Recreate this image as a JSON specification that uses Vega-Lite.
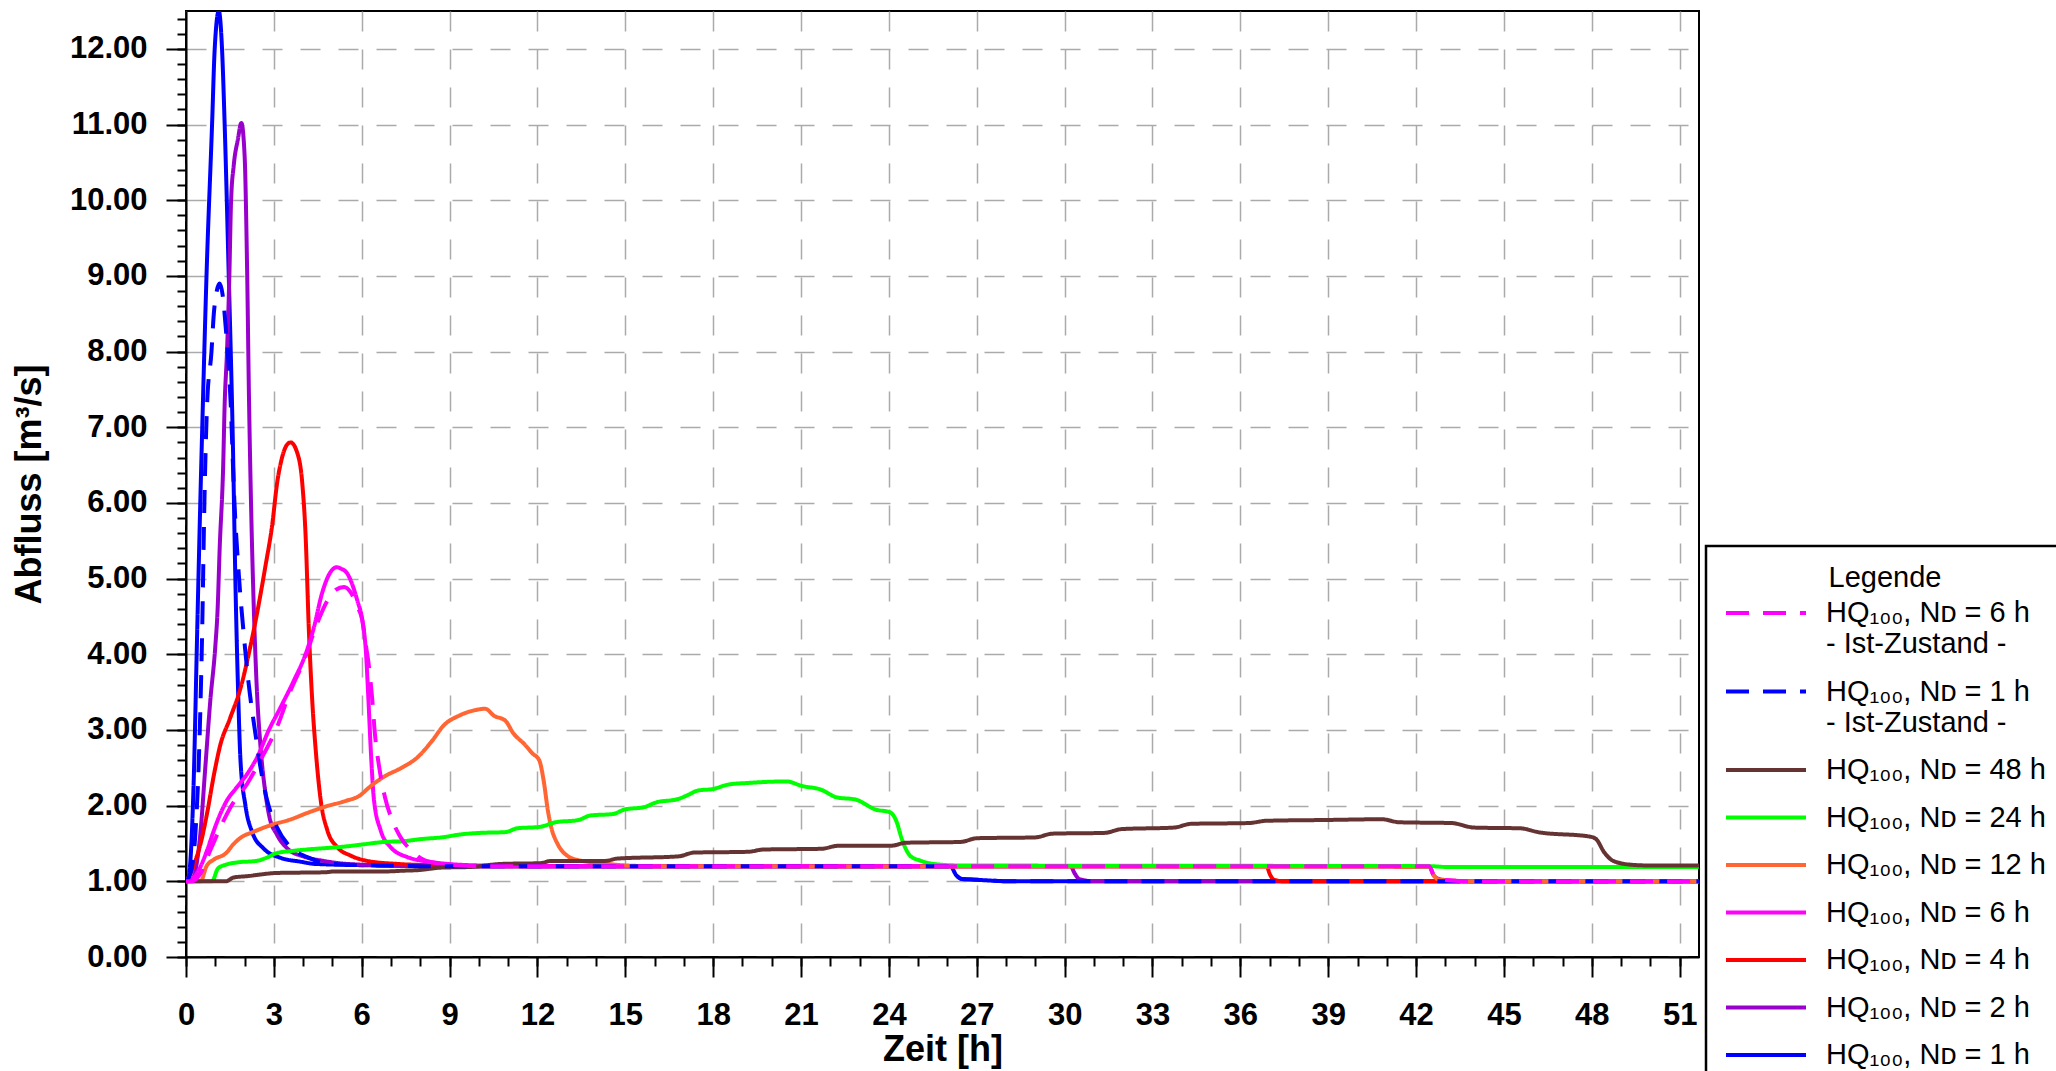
{
"$schema": "https://vega.github.io/schema/vega-lite/v6.json",
"width": 1513, "height": 946,
"autosize": {"type": "none"},
"padding": {"left": 186, "top": 11, "right": 357, "bottom": 114},
"background": "white",
"config": {
  "font": "Liberation Sans",
  "view": {"stroke": "black", "strokeWidth": 2},
  "axis": {"domainColor": "black", "domainWidth": 2, "tickColor": "black", "tickWidth": 2, "labelColor": "black", "titleColor": "black", "labelFont": "Liberation Sans", "titleFont": "Liberation Sans", "labelFlush": false, "labelOverlap": false}
},
"data": {"values": [
{"s":"1","t":0,"q":1.0},{"s":"1","t":0.08,"q":1.05},{"s":"1","t":0.15,"q":1.27},{"s":"1","t":0.26,"q":2.29},{"s":"1","t":0.38,"q":4.27},{"s":"1","t":0.49,"q":6.04},{"s":"1","t":0.58,"q":7.36},{"s":"1","t":0.7,"q":9.0},{"s":"1","t":0.89,"q":11.0},{"s":"1","t":0.98,"q":12.0},{"s":"1","t":1.12,"q":12.5},{"s":"1","t":1.23,"q":12.0},{"s":"1","t":1.32,"q":11.0},{"s":"1","t":1.46,"q":9.0},{"s":"1","t":1.6,"q":6.8},{"s":"1","t":1.69,"q":4.9},{"s":"1","t":1.78,"q":3.5},{"s":"1","t":1.86,"q":2.6},{"s":"1","t":2.03,"q":2.0},{"s":"1","t":2.26,"q":1.65},{"s":"1","t":2.66,"q":1.43},{"s":"1","t":3.23,"q":1.31},{"s":"1","t":3.9,"q":1.26},{"s":"1","t":4.4,"q":1.23},{"s":"1","t":6.6,"q":1.21},{"s":"1","t":10,"q":1.2},{"s":"1","t":26.1,"q":1.2},{"s":"1","t":26.3,"q":1.08},{"s":"1","t":26.5,"q":1.03},{"s":"1","t":27,"q":1.02},{"s":"1","t":28.2,"q":1.0},{"s":"1","t":51.66,"q":1.0},
{"s":"2","t":0,"q":1.0},{"s":"2","t":0.2,"q":1.02},{"s":"2","t":0.35,"q":1.2},{"s":"2","t":0.49,"q":1.63},{"s":"2","t":0.66,"q":2.51},{"s":"2","t":0.83,"q":3.39},{"s":"2","t":1.0,"q":4.1},{"s":"2","t":1.08,"q":4.6},{"s":"2","t":1.15,"q":5.4},{"s":"2","t":1.27,"q":6.5},{"s":"2","t":1.32,"q":7.3},{"s":"2","t":1.4,"q":8.0},{"s":"2","t":1.48,"q":9.0},{"s":"2","t":1.54,"q":10.0},{"s":"2","t":1.63,"q":10.46},{"s":"2","t":1.77,"q":10.8},{"s":"2","t":1.89,"q":11.02},{"s":"2","t":2.0,"q":10.6},{"s":"2","t":2.09,"q":9.0},{"s":"2","t":2.15,"q":7.4},{"s":"2","t":2.22,"q":6.0},{"s":"2","t":2.3,"q":4.8},{"s":"2","t":2.4,"q":3.7},{"s":"2","t":2.54,"q":2.8},{"s":"2","t":2.7,"q":2.2},{"s":"2","t":2.85,"q":1.85},{"s":"2","t":3.1,"q":1.62},{"s":"2","t":3.5,"q":1.42},{"s":"2","t":4.0,"q":1.33},{"s":"2","t":4.7,"q":1.27},{"s":"2","t":5.5,"q":1.23},{"s":"2","t":7,"q":1.21},{"s":"2","t":9,"q":1.2},{"s":"2","t":30.2,"q":1.2},{"s":"2","t":30.35,"q":1.1},{"s":"2","t":30.5,"q":1.03},{"s":"2","t":31,"q":1.0},{"s":"2","t":51.66,"q":1.0},
{"s":"4","t":0,"q":1.0},{"s":"4","t":0.15,"q":1.1},{"s":"4","t":0.3,"q":1.25},{"s":"4","t":0.5,"q":1.5},{"s":"4","t":0.72,"q":1.9},{"s":"4","t":0.95,"q":2.4},{"s":"4","t":1.17,"q":2.8},{"s":"4","t":1.5,"q":3.15},{"s":"4","t":1.86,"q":3.55},{"s":"4","t":2.14,"q":4.0},{"s":"4","t":2.43,"q":4.55},{"s":"4","t":2.71,"q":5.16},{"s":"4","t":2.94,"q":5.7},{"s":"4","t":3.11,"q":6.26},{"s":"4","t":3.28,"q":6.6},{"s":"4","t":3.45,"q":6.77},{"s":"4","t":3.57,"q":6.8},{"s":"4","t":3.8,"q":6.66},{"s":"4","t":3.97,"q":6.26},{"s":"4","t":4.08,"q":5.6},{"s":"4","t":4.2,"q":4.27},{"s":"4","t":4.31,"q":3.39},{"s":"4","t":4.43,"q":2.73},{"s":"4","t":4.6,"q":2.07},{"s":"4","t":4.83,"q":1.67},{"s":"4","t":5.17,"q":1.45},{"s":"4","t":5.62,"q":1.34},{"s":"4","t":6.19,"q":1.27},{"s":"4","t":7.22,"q":1.23},{"s":"4","t":8.7,"q":1.21},{"s":"4","t":10,"q":1.2},{"s":"4","t":36.9,"q":1.2},{"s":"4","t":37.0,"q":1.1},{"s":"4","t":37.15,"q":1.02},{"s":"4","t":37.5,"q":1.0},{"s":"4","t":51.66,"q":1.0},
{"s":"6","t":0,"q":1.0},{"s":"6","t":0.26,"q":1.05},{"s":"6","t":0.49,"q":1.19},{"s":"6","t":0.72,"q":1.41},{"s":"6","t":0.95,"q":1.67},{"s":"6","t":1.17,"q":1.89},{"s":"6","t":1.4,"q":2.07},{"s":"6","t":1.69,"q":2.22},{"s":"6","t":2.09,"q":2.42},{"s":"6","t":2.43,"q":2.64},{"s":"6","t":2.83,"q":3.0},{"s":"6","t":3.23,"q":3.3},{"s":"6","t":3.68,"q":3.65},{"s":"6","t":4.08,"q":4.0},{"s":"6","t":4.37,"q":4.36},{"s":"6","t":4.64,"q":4.8},{"s":"6","t":4.94,"q":5.09},{"s":"6","t":5.14,"q":5.15},{"s":"6","t":5.3,"q":5.13},{"s":"6","t":5.5,"q":5.07},{"s":"6","t":5.85,"q":4.71},{"s":"6","t":6.02,"q":4.45},{"s":"6","t":6.14,"q":4.05},{"s":"6","t":6.23,"q":3.39},{"s":"6","t":6.31,"q":2.73},{"s":"6","t":6.42,"q":2.07},{"s":"6","t":6.65,"q":1.67},{"s":"6","t":6.99,"q":1.45},{"s":"6","t":7.56,"q":1.32},{"s":"6","t":8.47,"q":1.25},{"s":"6","t":10,"q":1.21},{"s":"6","t":12,"q":1.2},{"s":"6","t":42.45,"q":1.2},{"s":"6","t":42.6,"q":1.08},{"s":"6","t":42.8,"q":1.03},{"s":"6","t":43.2,"q":1.01},{"s":"6","t":44,"q":1.0},{"s":"6","t":51.66,"q":1.0},
{"s":"12","t":0,"q":1.0},{"s":"12","t":0.5,"q":1.0},{"s":"12","t":0.7,"q":1.2},{"s":"12","t":0.96,"q":1.29},{"s":"12","t":1.36,"q":1.37},{"s":"12","t":1.62,"q":1.49},{"s":"12","t":1.88,"q":1.58},{"s":"12","t":2.28,"q":1.65},{"s":"12","t":2.8,"q":1.73},{"s":"12","t":3.59,"q":1.82},{"s":"12","t":4.12,"q":1.9},{"s":"12","t":4.78,"q":1.99},{"s":"12","t":5.43,"q":2.06},{"s":"12","t":5.96,"q":2.14},{"s":"12","t":6.22,"q":2.23},{"s":"12","t":6.75,"q":2.38},{"s":"12","t":7.36,"q":2.5},{"s":"12","t":7.88,"q":2.63},{"s":"12","t":8.41,"q":2.86},{"s":"12","t":8.8,"q":3.06},{"s":"12","t":9.33,"q":3.19},{"s":"12","t":9.85,"q":3.26},{"s":"12","t":10.22,"q":3.28},{"s":"12","t":10.51,"q":3.19},{"s":"12","t":10.91,"q":3.12},{"s":"12","t":11.17,"q":2.96},{"s":"12","t":11.56,"q":2.81},{"s":"12","t":11.83,"q":2.69},{"s":"12","t":12.06,"q":2.6},{"s":"12","t":12.22,"q":2.31},{"s":"12","t":12.35,"q":1.95},{"s":"12","t":12.48,"q":1.7},{"s":"12","t":12.68,"q":1.5},{"s":"12","t":13.01,"q":1.34},{"s":"12","t":13.4,"q":1.28},{"s":"12","t":14.2,"q":1.24},{"s":"12","t":15,"q":1.21},{"s":"12","t":16,"q":1.2},{"s":"12","t":42.45,"q":1.19},{"s":"12","t":42.6,"q":1.08},{"s":"12","t":42.8,"q":1.02},{"s":"12","t":44,"q":1.0},{"s":"12","t":51.66,"q":1.0},
{"s":"24","t":0,"q":1.0},{"s":"24","t":0.89,"q":1.0},{"s":"24","t":1.09,"q":1.17},{"s":"24","t":1.36,"q":1.22},{"s":"24","t":1.75,"q":1.25},{"s":"24","t":2.41,"q":1.27},{"s":"24","t":2.8,"q":1.32},{"s":"24","t":3.07,"q":1.37},{"s":"24","t":3.59,"q":1.4},{"s":"24","t":4.12,"q":1.42},{"s":"24","t":5.43,"q":1.46},{"s":"24","t":6.09,"q":1.49},{"s":"24","t":6.75,"q":1.52},{"s":"24","t":7.41,"q":1.53},{"s":"24","t":8.07,"q":1.56},{"s":"24","t":8.72,"q":1.58},{"s":"24","t":9.38,"q":1.62},{"s":"24","t":10.04,"q":1.64},{"s":"24","t":10.9,"q":1.65},{"s":"24","t":11.3,"q":1.7},{"s":"24","t":12.09,"q":1.72},{"s":"24","t":12.61,"q":1.78},{"s":"24","t":13.4,"q":1.81},{"s":"24","t":13.8,"q":1.87},{"s":"24","t":14.59,"q":1.89},{"s":"24","t":14.98,"q":1.95},{"s":"24","t":15.64,"q":1.98},{"s":"24","t":16.03,"q":2.04},{"s":"24","t":16.82,"q":2.09},{"s":"24","t":17.08,"q":2.13},{"s":"24","t":17.48,"q":2.2},{"s":"24","t":18.0,"q":2.22},{"s":"24","t":18.53,"q":2.28},{"s":"24","t":19.19,"q":2.3},{"s":"24","t":20.5,"q":2.32},{"s":"24","t":21.03,"q":2.26},{"s":"24","t":21.69,"q":2.21},{"s":"24","t":22.21,"q":2.11},{"s":"24","t":22.87,"q":2.08},{"s":"24","t":23.53,"q":1.95},{"s":"24","t":24.05,"q":1.91},{"s":"24","t":24.25,"q":1.8},{"s":"24","t":24.45,"q":1.55},{"s":"24","t":24.72,"q":1.34},{"s":"24","t":25.1,"q":1.27},{"s":"24","t":25.76,"q":1.22},{"s":"24","t":26.4,"q":1.21},{"s":"24","t":42.5,"q":1.2},{"s":"24","t":43,"q":1.19},{"s":"24","t":51.66,"q":1.19},
{"s":"48","t":0,"q":1.0},{"s":"48","t":1.36,"q":1.0},{"s":"48","t":1.62,"q":1.05},{"s":"48","t":2.14,"q":1.07},{"s":"48","t":2.54,"q":1.09},{"s":"48","t":3.07,"q":1.11},{"s":"48","t":4.78,"q":1.12},{"s":"48","t":5.04,"q":1.13},{"s":"48","t":6.75,"q":1.13},{"s":"48","t":7.41,"q":1.14},{"s":"48","t":8.0,"q":1.15},{"s":"48","t":8.67,"q":1.18},{"s":"48","t":9.72,"q":1.19},{"s":"48","t":10.77,"q":1.23},{"s":"48","t":12.09,"q":1.24},{"s":"48","t":12.48,"q":1.27},{"s":"48","t":14.32,"q":1.27},{"s":"48","t":14.72,"q":1.3},{"s":"48","t":16.82,"q":1.33},{"s":"48","t":17.35,"q":1.38},{"s":"48","t":19.19,"q":1.39},{"s":"48","t":19.71,"q":1.42},{"s":"48","t":21.7,"q":1.43},{"s":"48","t":22.28,"q":1.47},{"s":"48","t":24.06,"q":1.47},{"s":"48","t":24.6,"q":1.51},{"s":"48","t":26.43,"q":1.52},{"s":"48","t":27.02,"q":1.57},{"s":"48","t":28.99,"q":1.58},{"s":"48","t":29.59,"q":1.63},{"s":"48","t":31.36,"q":1.64},{"s":"48","t":31.95,"q":1.69},{"s":"48","t":33.73,"q":1.71},{"s":"48","t":34.32,"q":1.76},{"s":"48","t":36.29,"q":1.77},{"s":"48","t":36.89,"q":1.8},{"s":"48","t":38.86,"q":1.81},{"s":"48","t":40.83,"q":1.82},{"s":"48","t":41.43,"q":1.78},{"s":"48","t":43.2,"q":1.77},{"s":"48","t":43.99,"q":1.71},{"s":"48","t":45.57,"q":1.7},{"s":"48","t":46.16,"q":1.65},{"s":"48","t":47.94,"q":1.59},{"s":"48","t":48.14,"q":1.56},{"s":"48","t":48.43,"q":1.38},{"s":"48","t":48.73,"q":1.27},{"s":"48","t":49.32,"q":1.22},{"s":"48","t":49.91,"q":1.21},{"s":"48","t":51.66,"q":1.21},
{"s":"1i","t":0,"q":1.0},{"s":"1i","t":0.15,"q":1.1},{"s":"1i","t":0.32,"q":1.63},{"s":"1i","t":0.43,"q":2.51},{"s":"1i","t":0.55,"q":4.27},{"s":"1i","t":0.63,"q":6.04},{"s":"1i","t":0.72,"q":7.3},{"s":"1i","t":0.87,"q":8.0},{"s":"1i","t":0.95,"q":8.5},{"s":"1i","t":1.05,"q":8.8},{"s":"1i","t":1.15,"q":8.9},{"s":"1i","t":1.25,"q":8.75},{"s":"1i","t":1.35,"q":8.35},{"s":"1i","t":1.52,"q":7.36},{"s":"1i","t":1.65,"q":6.04},{"s":"1i","t":1.8,"q":5.07},{"s":"1i","t":1.97,"q":4.27},{"s":"1i","t":2.14,"q":3.61},{"s":"1i","t":2.37,"q":2.95},{"s":"1i","t":2.54,"q":2.51},{"s":"1i","t":2.77,"q":2.07},{"s":"1i","t":3.11,"q":1.71},{"s":"1i","t":3.57,"q":1.45},{"s":"1i","t":4.14,"q":1.32},{"s":"1i","t":5.05,"q":1.23},{"s":"1i","t":6.5,"q":1.21},{"s":"1i","t":8,"q":1.2},{"s":"1i","t":26.1,"q":1.2},{"s":"1i","t":26.3,"q":1.08},{"s":"1i","t":26.5,"q":1.03},{"s":"1i","t":27,"q":1.02},{"s":"1i","t":28.2,"q":1.0},{"s":"1i","t":51.66,"q":1.0},
{"s":"6i","t":0,"q":1.0},{"s":"6i","t":0.2,"q":1.0},{"s":"6i","t":0.49,"q":1.1},{"s":"6i","t":0.83,"q":1.41},{"s":"6i","t":1.17,"q":1.71},{"s":"6i","t":1.52,"q":1.98},{"s":"6i","t":2.09,"q":2.29},{"s":"6i","t":2.54,"q":2.6},{"s":"6i","t":3.11,"q":3.04},{"s":"6i","t":3.57,"q":3.52},{"s":"6i","t":4.03,"q":3.92},{"s":"6i","t":4.48,"q":4.41},{"s":"6i","t":4.83,"q":4.71},{"s":"6i","t":5.11,"q":4.85},{"s":"6i","t":5.4,"q":4.89},{"s":"6i","t":5.62,"q":4.82},{"s":"6i","t":5.85,"q":4.63},{"s":"6i","t":6.02,"q":4.45},{"s":"6i","t":6.15,"q":4.1},{"s":"6i","t":6.25,"q":3.83},{"s":"6i","t":6.36,"q":3.4},{"s":"6i","t":6.45,"q":2.95},{"s":"6i","t":6.6,"q":2.5},{"s":"6i","t":6.8,"q":2.1},{"s":"6i","t":7.05,"q":1.8},{"s":"6i","t":7.3,"q":1.6},{"s":"6i","t":7.8,"q":1.37},{"s":"6i","t":8.2,"q":1.27},{"s":"6i","t":9,"q":1.22},{"s":"6i","t":10,"q":1.2},{"s":"6i","t":42.45,"q":1.2},{"s":"6i","t":42.6,"q":1.08},{"s":"6i","t":42.8,"q":1.03},{"s":"6i","t":43.2,"q":1.01},{"s":"6i","t":44,"q":1.0},{"s":"6i","t":51.66,"q":1.0}
]},
"resolve": {"axis": {"x": "independent", "y": "independent"}},
"layer": [
 {
  "mark": {"type": "line", "strokeWidth": 4, "interpolate": "monotone", "clip": true},
  "encoding": {
   "x": {"field": "t", "type": "quantitative",
     "scale": {"domain": [0, 51.66], "nice": false, "zero": false},
     "axis": {"orient": "bottom", "values": [0,3,6,9,12,15,18,21,24,27,30,33,36,39,42,45,48,51],
       "title": "Zeit [h]", "titleFontSize": 36, "titleFontWeight": "bold", "titlePadding": 2,
       "labelFontSize": 31, "labelFontWeight": "bold", "labelPadding": 23, "tickSize": 20,
       "grid": true, "gridColor": "#aaaaaa", "gridWidth": 1.5, "gridDash": [20, 18]}},
   "y": {"field": "q", "type": "quantitative",
     "scale": {"domain": [0, 12.5], "nice": false},
     "axis": {"orient": "left", "values": [0,1,2,3,4,5,6,7,8,9,10,11,12], "format": ".2f",
       "title": "Abfluss [m³/s]", "titleFontSize": 36, "titleFontWeight": "bold", "titlePadding": 21,
       "labelFontSize": 31, "labelFontWeight": "bold", "labelPadding": 19, "tickSize": 20,
       "grid": true, "gridColor": "#aaaaaa", "gridWidth": 1.5, "gridDash": [20, 18]}},
   "color": {"field": "s", "type": "nominal",
     "scale": {"domain": ["6i","1i","48","24","12","6","4","2","1"],
               "range": ["#ff00ff","#0000ff","#663333","#00ff00","#ff6633","#ff00ff","#ff0000","#9900cc","#0000ff"]},
     "legend": {"title": "Legende", "orient": "none", "legendX": 1520, "legendY": 535, "direction": "vertical", "columns": 1,
       "symbolType": "M-2,0L2,0", "symbolSize": 1600, "symbolStrokeWidth": 4, "symbolOffset": 20,
       "labelFont": "Liberation Sans", "labelFontSize": 29, "labelColor": "black", "labelOffset": 38, "labelLimit": 500,
       "titleFont": "Liberation Sans", "titleFontSize": 29, "titleFontWeight": "normal", "titleColor": "black", "titleAnchor": "middle", "titlePadding": -2,
       "padding": 18, "rowPadding": 10.5, "strokeColor": "black", "fillColor": "white",
       "labelExpr": "indexof(datum.label, 'i') >= 0 ? ['HQ₁₀₀, Nᴅ = ' + replace(datum.label, 'i', '') + ' h', '- Ist-Zustand -'] : 'HQ₁₀₀, Nᴅ = ' + datum.label + ' h'",
       "encode": {"legend": {"update": {"strokeWidth": {"value": 2.5}}}}}},
   "strokeDash": {"field": "s", "type": "nominal",
     "scale": {"domain": ["6i","1i","48","24","12","6","4","2","1"],
               "range": [[23,14],[23,14],[1,0],[1,0],[1,0],[1,0],[1,0],[1,0],[1,0]]},
     "legend": {"title": "Legende", "orient": "none", "legendX": 1520, "legendY": 535, "direction": "vertical", "columns": 1,
       "symbolType": "M-2,0L2,0", "symbolSize": 1600, "symbolStrokeWidth": 4, "symbolOffset": 20,
       "labelFont": "Liberation Sans", "labelFontSize": 29, "labelColor": "black", "labelOffset": 38, "labelLimit": 500,
       "titleFont": "Liberation Sans", "titleFontSize": 29, "titleFontWeight": "normal", "titleColor": "black", "titleAnchor": "middle", "titlePadding": -2,
       "padding": 18, "rowPadding": 10.5, "strokeColor": "black", "fillColor": "white",
       "labelExpr": "indexof(datum.label, 'i') >= 0 ? ['HQ₁₀₀, Nᴅ = ' + replace(datum.label, 'i', '') + ' h', '- Ist-Zustand -'] : 'HQ₁₀₀, Nᴅ = ' + datum.label + ' h'",
       "encode": {"legend": {"update": {"strokeWidth": {"value": 2.5}}}}}}
  }
 },
 {
  "mark": {"type": "line", "opacity": 0},
  "encoding": {
   "x": {"field": "t", "type": "quantitative",
     "scale": {"domain": [0, 51.66], "nice": false, "zero": false},
     "axis": {"orient": "bottom", "values": [0,1,2,3,4,5,6,7,8,9,10,11,12,13,14,15,16,17,18,19,20,21,22,23,24,25,26,27,28,29,30,31,32,33,34,35,36,37,38,39,40,41,42,43,44,45,46,47,48,49,50,51],
       "labels": false, "title": null, "tickSize": 9, "grid": false, "domain": false}},
   "y": {"field": "q", "type": "quantitative",
     "scale": {"domain": [0, 12.5], "nice": false},
     "axis": {"orient": "left", "values": [0,0.2,0.4,0.6,0.8,1,1.2,1.4,1.6,1.8,2,2.2,2.4,2.6,2.8,3,3.2,3.4,3.6,3.8,4,4.2,4.4,4.6,4.8,5,5.2,5.4,5.6,5.8,6,6.2,6.4,6.6,6.8,7,7.2,7.4,7.6,7.8,8,8.2,8.4,8.6,8.8,9,9.2,9.4,9.6,9.8,10,10.2,10.4,10.6,10.8,11,11.2,11.4,11.6,11.8,12,12.2,12.4],
       "labels": false, "title": null, "tickSize": 9, "grid": false, "domain": false}},
   "detail": {"field": "s", "type": "nominal"}
  }
 }
]
}
